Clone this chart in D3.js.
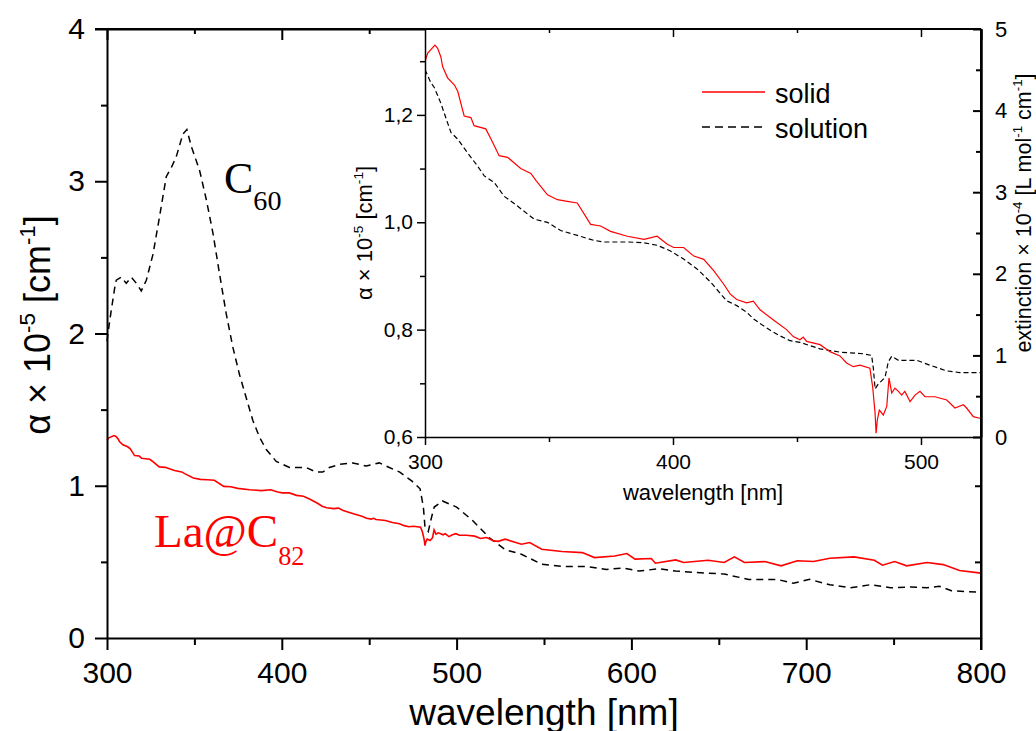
<!DOCTYPE html>
<html>
<head>
<meta charset="utf-8">
<script src="https://cdn.jsdelivr.net/npm/d3@7"></script>
<style>
  body { margin: 0; background: #fff; }
  svg text { font-family: "Liberation Sans", Arial, sans-serif; fill: #000; }
  svg text.serif { font-family: "Liberation Serif", "Times New Roman", serif; }
</style>
</head>
<body>
<svg id="chart" width="1036" height="731"></svg>
<script>
// La@C82 solid film, alpha x 1e-5 [cm^-1] (shown in main plot and inset)
const solidWl = [300, 301.1, 304.0, 305.1, 306.4, 307.1, 309.1, 311.8, 313.2, 315.8, 318.5, 319.8, 324.5, 326.6, 329.9,
  333.3, 338.6, 342.7, 344.7, 349.4, 353.4, 357.4, 361.4, 366.8, 370.8, 374.8, 381.6, 388.3, 393.6, 397.7, 400.3,
  404.3, 408.4, 412.4, 416.4, 420.4, 423.1, 425.7, 429.7, 432.4, 435.1, 440.5, 445.8, 448.5, 451.2, 452.5, 453.9,
  459.3, 463.3, 467.3, 470.0, 472.7, 475.4, 479.4, 480.5, 481.5, 481.9, 482.4, 483.2, 484.8, 486.2, 487.1, 488.2,
  489.5, 490.9, 492.2, 493.5, 495.6, 497.6, 499.6, 501.6, 505.6, 510.4, 513.7, 517.1, 518.4, 521.1, 523.8, 527.8,
  537.1, 541.8, 548.7, 560.3, 571.9, 578.9, 590.5, 597.4, 602.1, 611.4, 613.7, 625.3, 629.9, 643.9, 653.1, 658.9,
  664.7, 676.3, 685.6, 694.9, 704.2, 713.5, 727.4, 739.0, 743.6, 750.6, 757.5, 769.1, 778.4, 787.7, 800];
const solidAlpha = [1.300, 1.315, 1.330, 1.324, 1.308, 1.290, 1.269, 1.256, 1.244, 1.198, 1.195, 1.180, 1.174, 1.155, 1.124,
  1.121, 1.100, 1.091, 1.078, 1.051, 1.042, 1.039, 1.036, 0.996, 0.993, 0.983, 0.974, 0.968, 0.974, 0.959, 0.953,
  0.953, 0.937, 0.931, 0.910, 0.885, 0.866, 0.856, 0.850, 0.853, 0.837, 0.818, 0.800, 0.787, 0.781, 0.786, 0.778,
  0.772, 0.759, 0.751, 0.738, 0.731, 0.734, 0.728, 0.694, 0.644, 0.607, 0.632, 0.650, 0.641, 0.657, 0.710, 0.682,
  0.691, 0.685, 0.678, 0.685, 0.666, 0.678, 0.685, 0.675, 0.675, 0.669, 0.654, 0.660, 0.654, 0.638, 0.635, 0.649,
  0.616, 0.627, 0.583, 0.568, 0.561, 0.528, 0.539, 0.555, 0.518, 0.522, 0.491, 0.513, 0.496, 0.511, 0.496, 0.533,
  0.496, 0.502, 0.474, 0.507, 0.502, 0.524, 0.533, 0.511, 0.478, 0.502, 0.474, 0.496, 0.482, 0.443, 0.426];

// C60, alpha x 1e-5 [cm^-1] (main plot, dashed)
const c60Wl = [300, 301.5, 304.4, 305.3, 308.2, 311.0, 313.9, 316.8, 319.6, 322.5, 326.3, 330.1, 333.9, 336.8, 339.6,
  343.4, 345.7, 348.2, 353.0, 356.8, 360.6, 364.4, 368.2, 372.0, 375.8, 379.6, 383.4, 387.2, 391.0, 396.8, 404.4,
  413.9, 419.6, 423.4, 427.2, 433.0, 440.6, 448.2, 455.8, 461.5, 467.5, 474.5, 479.1, 481.0, 481.9, 483.8, 485.6,
  487.2, 491.9, 500, 509.3, 518.6, 527.8, 537.1, 548.7, 560.3, 574.2, 585.8, 595.1, 604.4, 616.0, 625.3, 636.9,
  653.1, 667.1, 683.3, 692.6, 701.9, 713.5, 725.1, 736.7, 748.3, 759.9, 769.1, 776.1, 783.1, 800];
const c60Alpha = [1.95, 2.08, 2.30, 2.35, 2.37, 2.33, 2.37, 2.33, 2.28, 2.35, 2.52, 2.77, 3.03, 3.09, 3.16,
  3.31, 3.34, 3.23, 3.07, 2.88, 2.66, 2.39, 2.13, 1.91, 1.73, 1.58, 1.43, 1.32, 1.24, 1.16, 1.12,
  1.12, 1.09, 1.09, 1.12, 1.14, 1.15, 1.13, 1.15, 1.12, 1.09, 1.03, 0.98, 0.86, 0.73, 0.70, 0.79,
  0.86, 0.90, 0.86, 0.77, 0.66, 0.58, 0.55, 0.485, 0.47, 0.47, 0.45, 0.46, 0.44, 0.455, 0.44, 0.43,
  0.42, 0.385, 0.385, 0.36, 0.385, 0.35, 0.33, 0.35, 0.33, 0.335, 0.33, 0.34, 0.31, 0.30];

// La@C82 solution, extinction x 1e-4 [L mol^-1 cm^-1] (inset, dashed, right axis)
const solutionWl = [300, 302.4, 303.8, 306.4, 309.1, 310.5, 313.2, 317.2, 321.2, 323.9, 327.9, 331.9, 337.3, 344.0,
  349.4, 354.7, 361.4, 368.1, 372.2, 381.6, 388.3, 393.6, 399.0, 404.3, 409.7, 415.1, 421.6, 425.7, 429.7, 432.4,
  435.1, 439.1, 443.1, 447.2, 451.2, 455.2, 459.3, 463.3, 467.3, 476.7, 480.1, 480.8, 481.5, 482.8, 485.5, 486.8,
  488.2, 490.9, 498.3, 503.6, 510.4, 515.7, 523.1, 524.2];
const solutionExt = [4.50, 4.34, 4.28, 4.09, 3.85, 3.73, 3.65, 3.48, 3.32, 3.20, 3.12, 2.95, 2.83, 2.67,
  2.63, 2.53, 2.47, 2.41, 2.39, 2.39, 2.38, 2.35, 2.28, 2.18, 2.06, 1.90, 1.67, 1.61, 1.53, 1.45,
  1.39, 1.31, 1.24, 1.18, 1.16, 1.12, 1.08, 1.06, 1.04, 1.02, 1.00, 0.84, 0.59, 0.65, 0.73, 0.92,
  0.99, 0.94, 0.94, 0.88, 0.81, 0.79, 0.79, 0.79];

// tick values
const mainXMajor = [300, 400, 500, 600, 700, 800];
const mainXMinor = [350, 450, 550, 650, 750];
const mainYMajor = [0, 1, 2, 3, 4];
const mainYMinor = [0.5, 1.5, 2.5, 3.5];
const insetXMajor = [300, 400, 500];
const insetXMinor = [350, 450];
const insetYMajor = [0.6, 0.8, 1.0, 1.2];
const insetYMinor = [0.7, 0.9, 1.1, 1.3];
const insetRMajor = [0, 1, 2, 3, 4, 5];
const insetRMinor = [0.5, 1.5, 2.5, 3.5, 4.5];

const svg = d3.select('#chart');
svg.append('rect').attr('width', 1036).attr('height', 731).attr('fill', '#fff');

// main scales
const x = d3.scaleLinear().domain([300, 800]).range([107, 981]);
const y = d3.scaleLinear().domain([0, 4]).range([638, 29]);

// inset scales
const ix = d3.scaleLinear().domain([300, 524.2]).range([425, 981]);
const iy = d3.scaleLinear().domain([0.6, 1.36]).range([437, 29]);
const iyR = d3.scaleLinear().domain([0, 5]).range([437, 29]);

const commaFmt = d3.formatLocale({ decimal: ',', thousands: '.', grouping: [3], currency: ['', ''] }).format('.1f');

const zip = (xs, ys) => xs.map((v, i) => [v, ys[i]]);

function styleAxis(g, width, fontSize) {
  g.selectAll('path.domain').attr('stroke', '#000').attr('stroke-width', width);
  g.selectAll('.tick line').attr('stroke', '#000').attr('stroke-width', width);
  g.selectAll('.tick text').attr('font-size', fontSize).attr('font-family', '"Liberation Sans", Arial, sans-serif').attr('fill', '#000');
  g.attr('font-family', null).attr('font-size', null);
  return g;
}

// superscript / subscript runs inside a text element
function addRich(sel, parts, fs, subScale, shiftK) {
  let shift = 0;
  parts.forEach(([t, kind]) => {
    const target = kind === 'sup' ? -0.42 * fs : kind === 'sub' ? (shiftK || 0.35) * fs : 0;
    sel.append('tspan')
      .attr('dy', target - shift)
      .attr('font-size', kind ? fs * (subScale || 0.62) : fs)
      .text(t);
    shift = target;
  });
  return sel;
}

// ---------- main plot ----------
const mainG = svg.append('g');

// curves
const mainLine = d3.line().x(d => x(d[0])).y(d => y(d[1]));
mainG.append('path').datum(zip(c60Wl, c60Alpha))
  .attr('d', mainLine).attr('fill', 'none').attr('stroke', '#000')
  .attr('stroke-width', 1.5).attr('stroke-dasharray', '7,5');
mainG.append('path').datum(zip(solidWl, solidAlpha))
  .attr('d', mainLine).attr('fill', 'none').attr('stroke', '#ff0000')
  .attr('stroke-width', 1.6);

// inset panel background (drawn over main area)
const insetG = svg.append('g');
insetG.append('rect')
  .attr('x', ix.range()[0]).attr('y', iy.range()[1])
  .attr('width', ix.range()[1] - ix.range()[0]).attr('height', iy.range()[0] - iy.range()[1])
  .attr('fill', '#fff');

// main axes
styleAxis(mainG.append('g').attr('transform', 'translate(0,638)')
  .call(d3.axisBottom(x).tickValues(mainXMajor).tickSize(12).tickPadding(12).tickSizeOuter(0).tickFormat(d3.format('d'))), 2, 30);
styleAxis(mainG.append('g').attr('transform', 'translate(0,638)')
  .call(d3.axisBottom(x).tickValues(mainXMinor).tickSize(7).tickFormat('')), 2, 30)
  .select('path.domain').remove();

styleAxis(mainG.append('g').attr('transform', 'translate(107,0)')
  .call(d3.axisLeft(y).tickValues(mainYMajor).tickSize(12).tickPadding(10).tickSizeOuter(0).tickFormat(d3.format('d'))), 2, 30);
styleAxis(mainG.append('g').attr('transform', 'translate(107,0)')
  .call(d3.axisLeft(y).tickValues(mainYMinor).tickSize(6).tickFormat('')), 2, 30)
  .select('path.domain').remove();

// top axis, inward ticks
styleAxis(mainG.append('g').attr('transform', 'translate(0,29)')
  .call(d3.axisTop(x).tickValues(mainXMajor).tickSizeInner(-11).tickSizeOuter(0).tickFormat('')), 2, 30);
styleAxis(mainG.append('g').attr('transform', 'translate(0,29)')
  .call(d3.axisTop(x).tickValues(mainXMinor).tickSizeInner(-5).tickFormat('')), 2, 30)
  .select('path.domain').remove();

// right axis of main plot, inward ticks below the inset
styleAxis(mainG.append('g').attr('transform', 'translate(981,0)')
  .call(d3.axisRight(y).tickValues(mainYMajor.concat(mainYMinor).filter(v => y(v) > iy.range()[0] + 5 && v > 0))
    .tickSizeInner(-6).tickSizeOuter(0).tickFormat('')), 2, 30);

// ---------- inset ----------
const clipId = 'insetClip';
svg.append('defs').append('clipPath').attr('id', clipId).append('rect')
  .attr('x', ix.range()[0]).attr('y', iy.range()[1])
  .attr('width', ix.range()[1] - ix.range()[0]).attr('height', iy.range()[0] - iy.range()[1]);

const curvesG = insetG.append('g').attr('clip-path', `url(#${clipId})`);
curvesG.append('path').datum(zip(solutionWl, solutionExt))
  .attr('d', d3.line().x(d => ix(d[0])).y(d => iyR(d[1])))
  .attr('fill', 'none').attr('stroke', '#000').attr('stroke-width', 1.2).attr('stroke-dasharray', '5,3');
curvesG.append('path').datum(zip(solidWl, solidAlpha).filter(d => d[0] <= 525))
  .attr('d', d3.line().x(d => ix(d[0])).y(d => iy(d[1])))
  .attr('fill', 'none').attr('stroke', '#ff0000').attr('stroke-width', 1.2);

// inset axes
styleAxis(insetG.append('g').attr('transform', `translate(0,${iy.range()[0]})`)
  .call(d3.axisBottom(ix).tickValues(insetXMajor).tickSize(8).tickPadding(9).tickSizeOuter(0).tickFormat(d3.format('d'))), 1.5, 21);
styleAxis(insetG.append('g').attr('transform', `translate(0,${iy.range()[0]})`)
  .call(d3.axisBottom(ix).tickValues(insetXMinor).tickSize(5).tickFormat('')), 1.5, 21)
  .select('path.domain').remove();

styleAxis(insetG.append('g').attr('transform', `translate(${ix.range()[0]},0)`)
  .call(d3.axisLeft(iy).tickValues(insetYMajor).tickSize(8).tickPadding(4).tickSizeOuter(0).tickFormat(commaFmt)), 1.5, 21);
styleAxis(insetG.append('g').attr('transform', `translate(${ix.range()[0]},0)`)
  .call(d3.axisLeft(iy).tickValues(insetYMinor).tickSize(5).tickFormat('')), 1.5, 21)
  .select('path.domain').remove();

// inset top ticks (inward)
styleAxis(insetG.append('g').attr('transform', `translate(0,${iy.range()[1]})`)
  .call(d3.axisTop(ix).tickValues(insetXMajor.slice(1)).tickSizeInner(-8).tickFormat('')), 1.5, 21)
  .select('path.domain').remove();
styleAxis(insetG.append('g').attr('transform', `translate(0,${iy.range()[1]})`)
  .call(d3.axisTop(ix).tickValues(insetXMinor).tickSizeInner(-4).tickFormat('')), 1.5, 21)
  .select('path.domain').remove();

// inset right axis (extinction), ticks inward, labels outside
styleAxis(insetG.append('g').attr('transform', 'translate(981,0)')
  .call(d3.axisRight(iyR).tickValues(insetRMajor).tickSizeInner(-8).tickPadding(14).tickSizeOuter(0).tickFormat(d3.format('d'))), 2, 22);
styleAxis(insetG.append('g').attr('transform', 'translate(981,0)')
  .call(d3.axisRight(iyR).tickValues(insetRMinor).tickSizeInner(-5).tickFormat('')), 2, 22)
  .select('path.domain').remove();

// main frame: top line + right line on top of the inset
svg.append('line').attr('x1', 95).attr('x2', 981).attr('y1', 29).attr('y2', 29).attr('stroke', '#000').attr('stroke-width', 2);
svg.append('line').attr('x1', 981).attr('x2', 981).attr('y1', 29).attr('y2', 650).attr('stroke', '#000').attr('stroke-width', 2);

// legend
const legend = svg.append('g');
legend.append('line').attr('x1', 702).attr('x2', 765).attr('y1', 92).attr('y2', 92)
  .attr('stroke', '#ff0000').attr('stroke-width', 1.4);
legend.append('text').attr('x', 775).attr('y', 103).attr('font-size', 27).text('solid');
legend.append('line').attr('x1', 702).attr('x2', 767).attr('y1', 127).attr('y2', 127)
  .attr('stroke', '#000').attr('stroke-width', 1.4).attr('stroke-dasharray', '8,5');
legend.append('text').attr('x', 775).attr('y', 138).attr('font-size', 27).text('solution');

// ---------- titles ----------
svg.append('text').attr('x', 544).attr('y', 725).attr('text-anchor', 'middle')
  .attr('font-size', 37).text('wavelength [nm]');

addRich(svg.append('text').attr('transform', 'translate(50,325) rotate(-90)').attr('text-anchor', 'middle'),
  [['α × 10'], ['-5', 'sup'], [' [cm'], ['-1', 'sup'], [']']], 36);

svg.append('text').attr('x', 703).attr('y', 500).attr('text-anchor', 'middle')
  .attr('font-size', 22).text('wavelength [nm]');

addRich(svg.append('text').attr('transform', 'translate(372,233) rotate(-90)').attr('text-anchor', 'middle'),
  [['α × 10'], ['-5', 'sup'], [' [cm'], ['-1', 'sup'], [']']], 22);

addRich(svg.append('text').attr('transform', 'translate(1031,213) rotate(-90)').attr('text-anchor', 'middle'),
  [['extinction × 10'], ['-4', 'sup'], [' [L mol'], ['-1', 'sup'], [' cm'], ['-1', 'sup'], [']']], 21.5);

// curve annotations
addRich(svg.append('text').attr('class', 'serif').attr('x', 224).attr('y', 193),
  [['C'], ['60', 'sub']], 44, 0.64, 0.39);
addRich(svg.append('text').attr('class', 'serif').attr('x', 154).attr('y', 547).style('fill', '#ff0000'),
  [['La@C'], ['82', 'sub']], 47, 0.56, 0.38);
</script>
</body>
</html>
